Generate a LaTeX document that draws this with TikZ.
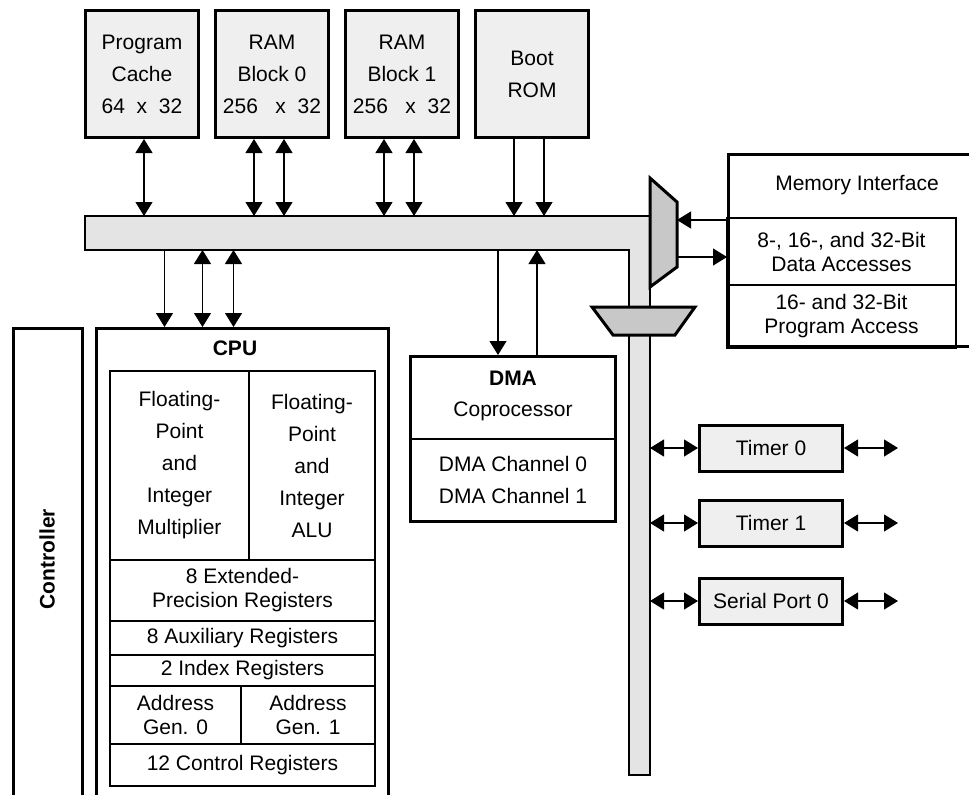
\documentclass[tikz,border=0pt]{standalone}
\usepackage{fontspec}
\setmainfont{Liberation Sans}
\usetikzlibrary{arrows.meta,positioning,calc}

\definecolor{boxgray}{HTML}{EFEFEF}
\definecolor{busgray}{HTML}{E4E4E4}
\definecolor{muxgray}{HTML}{C8C8C8}
\newcommand{\lbl}{\fontsize{21}{24}\selectfont}
\newcommand{\lblw}{\fontsize{21}{32}\selectfont}

\begin{document}
\begin{tikzpicture}[
  x=1pt, y=-1pt, font=\lbl,
  blk/.style={draw, line width=3pt, align=center},
  mem/.style={blk, fill=boxgray, font=\lblw, minimum width=113pt, minimum height=127pt},
  tmr/.style={blk, fill=boxgray, minimum width=143pt, minimum height=46pt},
  cell/.style={draw, line width=1.2pt, outer sep=0pt, align=center, anchor=north west},
  bus/.style={fill=busgray, inner sep=0pt, outer sep=0pt, anchor=north west},
  muxshape/.style={draw, line width=3pt, fill=muxgray},
  arr/.style={line width=1.2pt, -{Triangle[length=14pt,width=17pt]}},
  darr/.style={line width=1.2pt, {Triangle[length=14pt,width=17pt]}-{Triangle[length=14pt,width=17pt]}}
]
\useasboundingbox (0,0) rectangle (969,795);
\clip (0,0) rectangle (969,795);

% memories on top
\node[mem, anchor=north west] (pc) at (84,9) {Program\\Cache\\64~~x~~32};
\node[mem, right=14pt of pc] (ram0) {RAM\\Block 0\\256~~~x~~32};
\node[mem, right=14pt of ram0] (ram1) {RAM\\Block 1\\256~~~x~~32};
\node[mem, right=14pt of ram1] (boot) {Boot\\ROM};

% bus
\node[bus, minimum width=565pt, minimum height=34pt] (hbus) at (85,216) {};
\node[bus, minimum width=21pt, minimum height=559pt] (vbus) at (629,216) {};
\draw[line width=1.2pt] (hbus.north west) -- (vbus.north east) -- (vbus.south east) -- (vbus.south west)
  -- (vbus.west |- hbus.south) -- (hbus.south west) -- cycle;

% multiplexers
\draw[muxshape] (650,178) -- (677,202) -- (677,267) -- (650,287) -- cycle;
\coordinate (muxin) at (677,220);
\coordinate (muxout) at (677,257);
\draw[muxshape] (592,307) -- (695,307) -- (675,335) -- (613,335) -- cycle;

% memory interface
\node[blk, anchor=north west, minimum width=260pt, minimum height=192pt] (memif) at (727,153) {};
\node (memtitle) at (857,185) {Memory Interface};
\node[cell, minimum width=229pt, minimum height=67pt] (memdata) at (727,218) {8-, 16-, and 32-Bit\\Data Accesses};
\node[cell, minimum width=229pt, minimum height=63pt] (memprog) at (memdata.south west) {16- and 32-Bit\\Program Access};

% controller and cpu
\node[blk, anchor=north west, minimum width=69pt, minimum height=490pt] (ctrl) at (12,327) {};
\node[font=\lbl\bfseries, rotate=90] (ctrllbl) at (47,559) {Controller};
\node[blk, anchor=north west, minimum width=292pt, minimum height=490pt] (cpu) at (95,327) {};
\node[font=\lbl\bfseries] (cputitle) at (235,348) {CPU};
\node[cell, font=\lblw, minimum width=139pt, minimum height=189pt] (fpmul) at (110,371)
  {Floating-\\Point\\and\\Integer\\Multiplier};
\node[cell, font=\lblw, minimum width=126pt, minimum height=189pt] (fpalu) at (fpmul.north east)
  {Floating-\\Point\\and\\Integer\\ALU};
\node[cell, minimum width=265pt, minimum height=61pt] (extreg) at (fpmul.south west) {8 Extended-\\Precision Registers};
\node[cell, minimum width=265pt, minimum height=34pt] (auxreg) at (extreg.south west) {8 Auxiliary Registers};
\node[cell, minimum width=265pt, minimum height=31pt] (idxreg) at (auxreg.south west) {2 Index Registers};
\node[cell, minimum width=131pt, minimum height=58pt] (agen0) at (idxreg.south west) {Address\\Gen. 0};
\node[cell, minimum width=134pt, minimum height=58pt] (agen1) at (agen0.north east) {Address\\Gen. 1};
\node[cell, minimum width=265pt, minimum height=42pt] (ctlreg) at (agen0.south west) {12 Control Registers};

% dma
\node[blk, anchor=north west, minimum width=205pt, minimum height=165pt] (dma) at (409,355) {};
\draw[line width=1.2pt] (dma.west) -- (dma.east);
\node[font=\lbl\bfseries] (dmatitle) at (513,378) {DMA};
\node (dmacop) at (513,411) {Coprocessor};
\node[font=\lblw, align=center] (dmach) at (513,480) {DMA Channel 0\\DMA Channel 1};

% peripherals
\node[tmr] (timer0) at (771,448) {Timer 0};
\node[tmr, below=26pt of timer0] (timer1) {Timer 1};
\node[tmr, below=29pt of timer1] (sport) {Serial Port 0};

% connections
\draw[darr] ([xshift=2pt]pc.south) -- ([xshift=2pt]pc.south |- hbus.north);
\foreach \m in {ram0,ram1}
  \foreach \dx in {-18,12}
    \draw[darr] ([xshift=\dx pt]\m.south) -- ([xshift=\dx pt]\m.south |- hbus.north);
\foreach \dx in {-18,12}
  \draw[arr] ([xshift=\dx pt]boot.south) -- ([xshift=\dx pt]boot.south |- hbus.north);
\draw[arr] ([xshift=-78pt]cpu.north |- hbus.south) -- ([xshift=-78pt]cpu.north);
\foreach \dx in {-40,-9}
  \draw[darr] ([xshift=\dx pt]cpu.north |- hbus.south) -- ([xshift=\dx pt]cpu.north);
\draw[arr] ([xshift=-15pt]dma.north |- hbus.south) -- ([xshift=-15pt]dma.north);
\draw[arr] ([xshift=24pt]dma.north) -- ([xshift=24pt]dma.north |- hbus.south);
\draw[arr] (memif.west |- muxin) -- (muxin);
\draw[arr] (muxout) -- (memif.west |- muxout);
\foreach \t in {timer0,timer1,sport}{
  \draw[darr] (\t.west -| vbus.east) -- (\t.west);
  \draw[darr] (\t.east) -- ++(54,0);
}
\end{tikzpicture}
\end{document}
